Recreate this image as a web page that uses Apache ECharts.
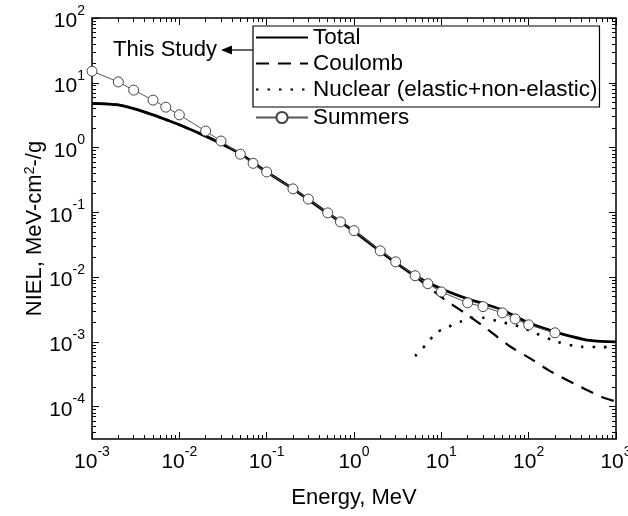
<!DOCTYPE html>
<html><head><meta charset="utf-8">
<script src="https://cdn.jsdelivr.net/npm/echarts@6/dist/echarts.min.js"></script>
<style>html,body{margin:0;padding:0;background:#fff}#c{width:628px;height:516px}</style>
</head><body><div id="c"></div>
<script>
// ---- data (energy in MeV, NIEL in MeV-cm2/g) ----
const totalE = [0.001,0.0015,0.002,0.003,0.005,0.007,0.01,0.02,0.03,0.05,0.1,0.2,0.5,1,2,5,10,20,30,50,100,200,500,1000];
const totalV = [4.8,4.7,4.55,4.0,3.2,2.7,2.25,1.5,1.15,0.8,0.42,0.23,0.097,0.051,0.025,0.0105,0.0066,0.0046,0.0039,0.0031,0.00196,0.00143,0.00105,0.001];
const coulE = [0.001,0.0015,0.002,0.003,0.005,0.007,0.01,0.02,0.03,0.05,0.1,0.2,0.5,1,2,5,10,20,35,62,105,178,400,700,1000];
const coulV = [4.8,4.7,4.55,4.0,3.2,2.7,2.25,1.5,1.15,0.8,0.42,0.23,0.097,0.051,0.025,0.0102,0.0049,0.0026,0.0015,0.00084,0.00055,0.00035,0.0002,0.00014,0.00012];
const nucE = [5,6.6,8.8,12,16.5,23,30,44,59,80,114,213,400,700,1000];
const nucV = [0.0006,0.00089,0.00138,0.0017,0.00204,0.00235,0.00235,0.0021,0.0019,0.0017,0.0014,0.001,0.00084,0.00083,0.00083];
const sumE = [0.001,0.002,0.003,0.005,0.007,0.01,0.02,0.03,0.05,0.07,0.1,0.2,0.3,0.5,0.7,1,2,3,5,7,10,20,30,50,70,100,200];
const sumV = [15.1,10.3,7.7,5.4,4.2,3.2,1.8,1.26,0.79,0.57,0.42,0.23,0.16,0.098,0.071,0.052,0.0254,0.0172,0.0105,0.0079,0.0059,0.004,0.0035,0.0028,0.00226,0.00183,0.00138];
const xTickExp = [-3,-2,-1,0,1,2,3];
const yTickExp = [-4,-3,-2,-1,0,1,2];
const names = ['Total','Coulomb','Nuclear (elastic+non-elastic)','Summers'];

const L = Math.log10;
const pts = (E,V) => E.map((e,i)=>[L(e),L(V[i])]);
function minors(lo, hi){ const r=[]; for(let n=-6;n<=3;n++){ for(let k=2;k<=9;k++){ const v=n+L(k); if(v>lo+1e-9 && v<hi-1e-9) r.push(v);} } return r; }
const FONT = 'Liberation Sans, Arial, Helvetica, sans-serif';
const rich = { b:{fontSize:21,fontFamily:FONT,color:'#000',verticalAlign:'bottom',lineHeight:28}, s:{fontSize:14,fontFamily:FONT,color:'#000',verticalAlign:'top',lineHeight:28,padding:[0,0,12,0]} };
const fmt = v => '{b|10}{s|' + Math.round(v) + '}';

const XMIN=-3, XMAX=3, YMIN=-4.5, YMAX=2;
function xAx(pos, major, labels){
  return { type:'value', min:XMIN, max:XMAX, position:pos, splitLine:{show:false},
    axisLine:{show:false, onZero:false},
    axisTick:{show:true, inside:true, length: major?7:4, lineStyle:{color:'#000',width:1},
      customValues: major ? xTickExp : minors(XMIN,XMAX)},
    axisLabel: labels ? {show:true, customValues:xTickExp, formatter:fmt, rich:rich, margin:6} : {show:false},
    name: labels ? 'Energy, MeV' : '', nameLocation:'middle', nameGap:48, nameMoveOverlap:false,
    nameTextStyle:{fontSize:22,fontFamily:FONT,color:'#000'} };
}
function yAx(pos, major, labels){
  return { type:'value', min:YMIN, max:YMAX, position:pos, splitLine:{show:false},
    axisLine:{show:false, onZero:false},
    axisTick:{show:true, inside:true, length: major?7:4, lineStyle:{color:'#000',width:1},
      customValues: major ? yTickExp : minors(YMIN,YMAX)},
    axisLabel: labels ? {show:true, customValues:yTickExp, formatter:fmt, rich:rich, margin:7} : {show:false},
    name: labels ? 'NIEL, MeV-cm{s|2}-/g' : '', nameLocation:'middle', nameGap:45, nameMoveOverlap:false,
    nameTextStyle:{fontSize:22,fontFamily:FONT,color:'#000', rich:{s:{fontSize:14,fontFamily:FONT,color:'#000',verticalAlign:'top',padding:[0,0,10,0]}}} };
}

const chart = echarts.init(document.getElementById('c'), null, {renderer:'canvas'});
chart.setOption({
  animation:false,
  backgroundColor:'#fff',
  grid:{left:92,right:12,top:18,bottom:77,show:true,borderColor:'#000',borderWidth:1.5,backgroundColor:'transparent',
        containLabel:false, outerBoundsMode:'none'},
  xAxis:[xAx('bottom',true,true), xAx('bottom',false,false), xAx('top',true,false), xAx('top',false,false)],
  yAxis:[yAx('left',true,true), yAx('left',false,false), yAx('right',true,false), yAx('right',false,false)],
  legend:[
    {data:names.slice(0,3).map(n=>({name:n, itemStyle:{opacity:0}})), orient:'vertical', left:253, top:26, itemWidth:52, itemHeight:14, itemGap:3,
     padding:[0,2,6,2], borderColor:'#000', borderWidth:1.2, selectedMode:false,
     textStyle:{fontSize:22.5,fontFamily:FONT,color:'#000'}},
    {data:[names[3]], orient:'vertical', left:253, top:106, itemWidth:52, itemHeight:14, padding:[0,0,0,2], selectedMode:false,
     textStyle:{fontSize:22.5,fontFamily:FONT,color:'#000'}}
  ],
  graphic:[
    {type:'text', x:113, y:50, style:{text:'This Study', fontSize:22, fontFamily:FONT, fill:'#000', verticalAlign:'middle'}},
    {type:'line', shape:{x1:228,y1:50,x2:253,y2:50}, style:{stroke:'#000',lineWidth:1.2}},
    {type:'polygon', shape:{points:[[221,50],[232,45.5],[232,54.5]]}, style:{fill:'#000'}}
  ],
  series:[
    {name:names[1], type:'line', data:pts(coulE,coulV), symbol:'none', smooth:0.3, z:2,
     lineStyle:{color:'#000', width:2.2, type:[13,9]}, itemStyle:{color:'#000'}},
    {name:names[2], type:'line', data:pts(nucE,nucV), symbol:'none', smooth:0.3, z:2,
     lineStyle:{color:'#000', width:2.6, type:[2.5,9]}, itemStyle:{color:'#000'}},
    {name:names[0], type:'line', data:pts(totalE,totalV), symbol:'none', smooth:0.3, z:3,
     lineStyle:{color:'#000', width:2.8}, itemStyle:{color:'#000'}},
    {name:names[3], type:'line', data:pts(sumE,sumV), symbol:'circle', symbolSize:10, z:4,
     lineStyle:{color:'#555', width:1}, itemStyle:{color:'#fff', borderColor:'#444', borderWidth:1}}
  ]
});
</script></body></html>
